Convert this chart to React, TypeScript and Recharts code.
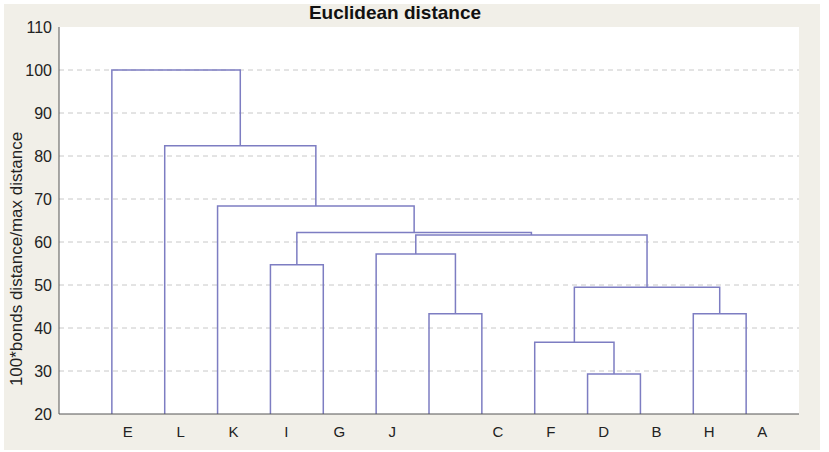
import { LineChart, Line, XAxis, YAxis, CartesianGrid } from "recharts";

// leaf labels as printed under the axis (one slot is blank in the original)
const leafLabels = ["E", "L", "K", "I", "G", "J", "", "C", "F", "D", "B", "H", "A"];
const yTicks = [20, 30, 40, 50, 60, 70, 80, 90, 100, 110];
const gridTicks = [30, 40, 50, 60, 70, 80, 90, 100];

// linkage: [left node, right node, height]; nodes 0..12 are leaves, 13+ are merges in order
const mergeLeft = [9, 8, 6, 11, 14, 3, 5, 19, 18, 2, 1, 0];
const mergeRight = [10, 13, 7, 12, 16, 4, 15, 17, 20, 21, 22, 23];
const mergeHeight = [29.3, 36.7, 43.3, 43.3, 49.5, 54.7, 57.2, 61.6, 62.2, 68.4, 82.4, 100];

const BASE = 20;
const LINK = "#7d7dc2";
const FONT = "'Liberation Sans', Arial, sans-serif";

function buildLinks() {
  const xs: number[] = leafLabels.map((_, i) => i + 1);
  const hs: number[] = leafLabels.map(() => BASE);
  const links: { x: number; y: number }[][] = [];
  mergeHeight.forEach((h, k) => {
    const a = mergeLeft[k];
    const b = mergeRight[k];
    links.push([
      { x: xs[a], y: hs[a] },
      { x: xs[a], y: h },
      { x: xs[b], y: h },
      { x: xs[b], y: hs[b] },
    ]);
    xs.push((xs[a] + xs[b]) / 2);
    hs.push(h);
  });
  return links;
}

const links = buildLinks();
const leafPos = leafLabels.map((_, i) => i + 1);

function LeafTick(props: any) {
  const { x, y, payload } = props;
  const label = leafLabels[payload.value - 1] ?? "";
  return (
    <text x={x + 16} y={y + 15} textAnchor="middle" fontSize={15} fill="#222" fontFamily={FONT}>
      {label}
    </text>
  );
}

export default function App() {
  return (
    <div style={{ position: "absolute", left: 0, top: 0, width: 829, height: 452, background: "#fff", fontFamily: FONT }}>
      <div style={{ position: "absolute", left: 4, top: 4, width: 816, height: 446, background: "#f1efe8" }} />
      <div
        style={{
          position: "absolute",
          left: 0,
          width: 790,
          top: 2,
          textAlign: "center",
          fontWeight: "bold",
          fontSize: 19,
          color: "#111",
        }}
      >
        Euclidean distance
      </div>
      <div
        style={{
          position: "absolute",
          left: 17,
          top: 259,
          transform: "translate(-50%, -50%) rotate(-90deg)",
          whiteSpace: "nowrap",
          fontSize: 17,
          color: "#222",
        }}
      >
        100*bonds distance/max distance
      </div>
      <div style={{ position: "absolute", left: 0, top: 0 }}>
        <LineChart width={829} height={452} margin={{ top: 27, right: 30, bottom: 0, left: 0 }}>
          <CartesianGrid
            vertical={false}
            horizontalValues={gridTicks}
            stroke="#c8c8c8"
            strokeDasharray="5 4"
            fill="#fff"
          />
          <XAxis
            dataKey="x"
            type="number"
            domain={[0, 14]}
            ticks={leafPos}
            height={38}
            tickLine={false}
            axisLine={{ stroke: "#555" }}
            tick={<LeafTick />}
            interval={0}
          />
          <XAxis
            xAxisId="top"
            dataKey="x"
            type="number"
            orientation="top"
            domain={[0, 14]}
            ticks={leafPos}
            height={0}
            mirror
            tick={false}
            tickSize={3}
            tickLine={{ stroke: "#555" }}
            axisLine={{ stroke: "#555" }}
          />
          <YAxis
            type="number"
            domain={[20, 110]}
            ticks={yTicks}
            width={59}
            tickLine={false}
            tickMargin={1}
            axisLine={{ stroke: "#555" }}
            tick={{ fontSize: 16, fill: "#222", fontFamily: FONT }}
            interval={0}
          />
          <YAxis
            yAxisId="right"
            orientation="right"
            type="number"
            domain={[20, 110]}
            ticks={gridTicks}
            width={0}
            mirror
            tick={false}
            tickSize={3}
            tickLine={{ stroke: "#555" }}
            axisLine={{ stroke: "#555" }}
          />
          {links.map((d, i) => (
            <Line
              key={i}
              data={d}
              dataKey="y"
              type="linear"
              stroke={LINK}
              strokeWidth={1.5}
              dot={false}
              activeDot={false}
              isAnimationActive={false}
            />
          ))}
        </LineChart>
      </div>
    </div>
  );
}
